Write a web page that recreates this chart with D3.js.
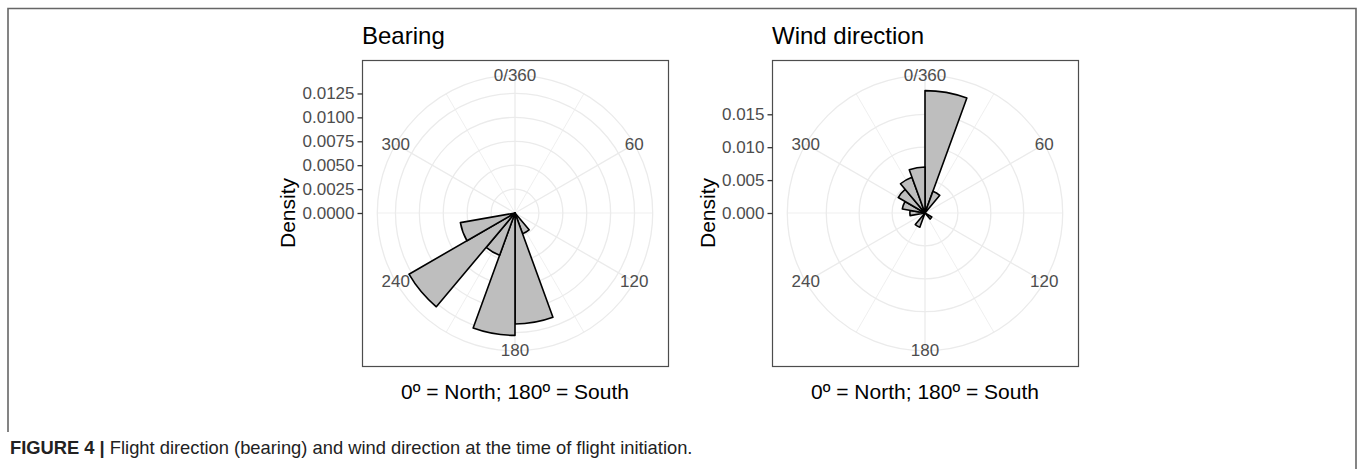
<!DOCTYPE html>
<html>
<head>
<meta charset="utf-8">
<script src="https://cdn.jsdelivr.net/npm/d3@7"></script>
<style>
  html, body { margin: 0; padding: 0; background: #ffffff; }
  svg { display: block; }
  text { font-family: "Liberation Sans", Arial, sans-serif; }
</style>
</head>
<body>
<svg id="fig" width="1358" height="469"></svg>
<script>
// ---- data -------------------------------------------------------------
const binWidth = 20;                       // degrees per histogram bin

// Flight bearing: density per bin (bins start at these angles)
const bearingBinStart = [140, 160, 180, 200, 220, 240];
const bearingDensity  = [0.0023, 0.0116, 0.0128, 0.0047, 0.0128, 0.0058];
const bearingRTicks   = [0, 0.0025, 0.005, 0.0075, 0.01, 0.0125];
const bearingRLabels  = ["0.0000", "0.0025", "0.0050", "0.0075", "0.0100", "0.0125"];

// Wind direction: density per bin
const windBinStart = [0, 20, 120, 200, 260, 280, 300, 320, 340];
const windDensity  = [0.0186, 0.0035, 0.0012, 0.0023, 0.0023, 0.0035, 0.0047, 0.0058, 0.0070];
const windRTicks   = [0, 0.005, 0.01, 0.015];
const windRLabels  = ["0.000", "0.005", "0.010", "0.015"];

// Compass ticks around the rim
const thetaBreaks = [0, 60, 120, 180, 240, 300];
const thetaLabels = ["0/360", "60", "120", "180", "240", "300"];
const thetaMinor  = [30, 90, 150, 210, 270, 330];

const panelTitles = ["Bearing", "Wind direction"];
const xTitle = "0º = North; 180º = South";
const yTitle = "Density";

// ---- layout -----------------------------------------------------------
const svg = d3.select("#fig");
svg.append("rect").attr("width", 1358).attr("height", 469).attr("fill", "#fff");

// outer figure frame
svg.append("path").attr("d", "M8,432 V8.5 H1356 V469")
  .attr("fill", "none").attr("stroke", "#666").attr("stroke-width", 1.6);

const P = 306;  // square panel size
const panels = [
  { x: 362, y: 60, title: panelTitles[0], starts: bearingBinStart, dens: bearingDensity,
    ticks: bearingRTicks, labels: bearingRLabels, yTitleX: 287 },
  { x: 772, y: 60, title: panelTitles[1], starts: windBinStart, dens: windDensity,
    ticks: windRTicks, labels: windRLabels, yTitleX: 707 }
];

const theta = d3.scaleLinear().domain([0, 360]).range([0, 2 * Math.PI]);
const axisFont = 17;

panels.forEach(p => {
  const cx = p.x + P / 2, cy = p.y + P / 2;
  const r = d3.scaleLinear().domain([0, d3.max(p.dens)]).range([0, 0.4 * P]);
  const rimR = 0.45 * P;
  const g = svg.append("g");

  // panel background grid
  const grid = g.append("g").attr("transform", `translate(${cx},${cy})`)
    .attr("fill", "none").attr("stroke", "#ebebeb");
  thetaMinor.forEach(t => {
    const a = theta(t);
    grid.append("line").attr("x1", 0).attr("y1", 0)
      .attr("x2", rimR * Math.sin(a)).attr("y2", -rimR * Math.cos(a))
      .attr("stroke-width", 0.8);
  });
  thetaBreaks.forEach(t => {
    const a = theta(t);
    grid.append("line").attr("x1", 0).attr("y1", 0)
      .attr("x2", rimR * Math.sin(a)).attr("y2", -rimR * Math.cos(a))
      .attr("stroke-width", 1.3);
  });
  p.ticks.concat([null]).forEach(v => {
    const rad = v === null ? rimR : r(v);
    if (rad > 0) grid.append("circle").attr("r", rad).attr("stroke-width", 1.3);
  });

  // rim labels
  g.append("g").selectAll("text").data(thetaBreaks).join("text")
    .attr("x", d => cx + rimR * Math.sin(theta(d)))
    .attr("y", d => cy - rimR * Math.cos(theta(d)))
    .attr("text-anchor", "middle").attr("dominant-baseline", "central")
    .attr("font-size", axisFont).attr("fill", "#4d4d4d")
    .text((d, i) => thetaLabels[i]);

  // bars
  const arc = d3.arc().innerRadius(0);
  g.append("g").attr("transform", `translate(${cx},${cy})`)
    .selectAll("path").data(p.starts.map((s, i) => ({ s, v: p.dens[i] }))).join("path")
    .attr("d", d => arc({ startAngle: theta(d.s), endAngle: theta(d.s + binWidth), outerRadius: r(d.v) }))
    .attr("fill", "#bebebe").attr("stroke", "#000").attr("stroke-width", 1.6)
    .attr("stroke-linejoin", "round");

  // panel border
  g.append("rect").attr("x", p.x + 0.5).attr("y", p.y + 0.5).attr("width", P).attr("height", P)
    .attr("fill", "none").attr("stroke", "#4d4d4d").attr("stroke-width", 1.2);

  // radial axis on the left
  const yScale = d3.scaleLinear().domain(r.domain()).range([cy, cy - 0.4 * P]);
  const axis = d3.axisLeft(yScale).tickValues(p.ticks)
    .tickFormat((d, i) => p.labels[i]).tickSize(5).tickPadding(3);
  const ax = g.append("g").attr("transform", `translate(${p.x + 0.5},0)`).call(axis);
  ax.select(".domain").remove();
  ax.selectAll(".tick line").attr("stroke", "#333").attr("stroke-width", 1.3);
  ax.selectAll(".tick text").attr("font-size", axisFont).attr("fill", "#4d4d4d")
    .attr("font-family", "'Liberation Sans', Arial, sans-serif");

  // titles
  g.append("text").attr("x", p.x).attr("y", 44).attr("font-size", 24).attr("fill", "#000")
    .text(p.title);
  g.append("text").attr("x", cx).attr("y", 399).attr("text-anchor", "middle")
    .attr("font-size", 21).attr("fill", "#000").text(xTitle);
  g.append("text").attr("transform", `translate(${p.yTitleX},${cy}) rotate(-90)`)
    .attr("text-anchor", "middle").attr("dominant-baseline", "central")
    .attr("font-size", 21).attr("fill", "#000").text(yTitle);
});

// caption, set in a condensed face
const capG = svg.append("g").attr("transform", "translate(10,454)");
const cap = capG.append("text").attr("font-size", 18).attr("fill", "#222");
cap.append("tspan").attr("font-weight", "bold").text("FIGURE 4 | ");
cap.append("tspan").text("Flight direction (bearing) and wind direction at the time of flight initiation.");
const capW = cap.node().getComputedTextLength();
cap.attr("transform", `scale(${683 / capW},1)`);
</script>
</body>
</html>
